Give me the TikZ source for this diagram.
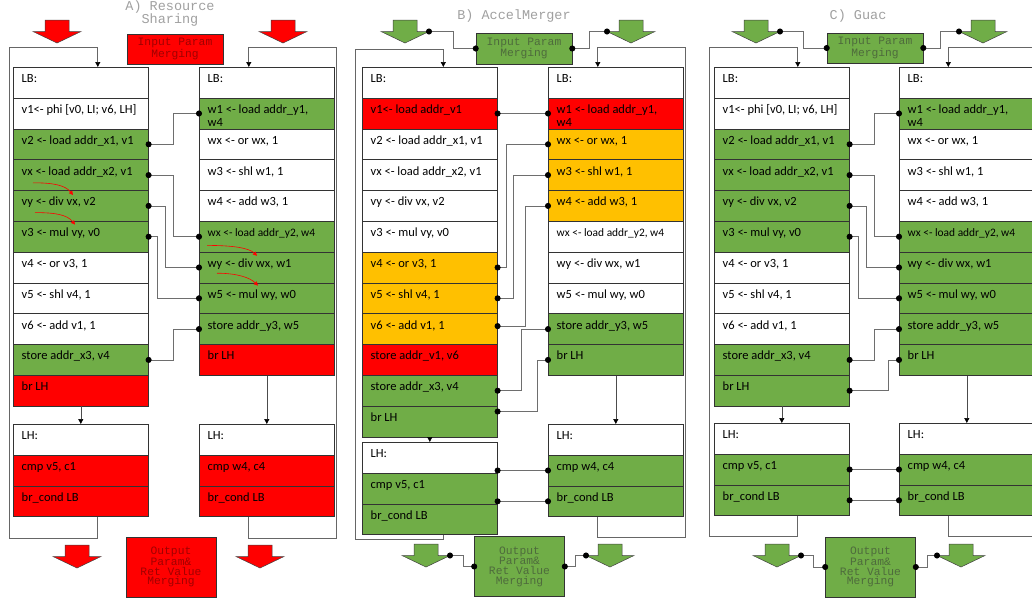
\documentclass[tikz,border=0pt]{standalone}
\usepackage{fontspec}
\setmainfont{Carlito}
\newfontfamily\monofont{Liberation Mono}
\usepackage{tikz}
\usetikzlibrary{arrows.meta}
\definecolor{Grn}{HTML}{70AD47}
\definecolor{Rd}{HTML}{FF0000}
\definecolor{Org}{HTML}{FFC000}
\definecolor{Wht}{HTML}{FFFFFF}
\definecolor{TitleGray}{HTML}{A0A0A0}
\definecolor{GrnText}{HTML}{4E6B3C}
\definecolor{RdText}{HTML}{A00000}
\definecolor{Wire}{HTML}{6E6E6E}

\tikzset{
  instr/.style={draw=black!80, line width=0.6pt, minimum width=135pt, minimum height=30.8pt, inner sep=0pt, anchor=north west},
  instrtxt/.style={anchor=north west, inner sep=0pt, text height=9pt, text depth=3pt, xshift=8.5pt, yshift=-6.5pt, align=left, font=\fontsize{12.5}{13}\selectfont},
  mergebox/.style={draw=black!80, line width=0.6pt, inner sep=0pt, align=center, font=\monofont\fontsize{11.3}{10}\selectfont},
  outbox/.style={mergebox, minimum width=90pt, minimum height=60pt, font=\monofont\fontsize{11.3}{9.6}\selectfont},
  title/.style={text=TitleGray, align=center, font=\monofont\fontsize{13.5}{13}\selectfont},
  wire/.style={draw=Wire, line width=0.7pt, {Circle[length=6pt,color=black]}-{Circle[length=6pt,color=black]}, shorten <=-3pt, shorten >=-3pt},
  backedge/.style={draw=black!60, line width=0.7pt, -{Triangle[length=5pt,width=5pt,color=black]}},
  flow/.style={draw=black!70, line width=0.6pt, -{Triangle[length=5pt,width=5pt,color=black]}},
  dep/.style={draw=Rd, line width=0.6pt, -{Triangle[length=4pt,width=4pt]}},
  bigarrow/.pic={
    \path[pic actions] (-12,0) -- (12,0) -- (12,11.5) -- (24,11.5) -- (0,23) -- (-24,11.5) -- (-12,11.5) -- cycle;
    \coordinate (-hl) at (-24,11.5);
    \coordinate (-hr) at (24,11.5);
  },
  redarrow/.style={fill=Rd, draw=black!75, line width=0.5pt},
  grnarrow/.style={fill=Grn, draw=black!75, line width=0.5pt}
}
\newcommand{\smallinstr}{\fontsize{11.4}{13}\selectfont}
\newcommand{\wrapinstr}[2]{\parbox[t]{125pt}{#1\\#2}}

\begin{document}
\begin{tikzpicture}[x=1pt,y=-1pt]
\useasboundingbox (0,0) rectangle (1032,603);

%%%%%%%%%%%%%%%% A) Resource Sharing
\node[title] (A-title) at (170,13.5) {A) Resource\\Sharing};
\pic[redarrow] (A-ia) at (57,20) {bigarrow};
\pic[redarrow] (A-ib) at (283,20) {bigarrow};
\node[mergebox, fill=Rd, text=RdText, minimum width=96pt, minimum height=30pt] (A-in) at (175,49) {Input Param\\Merging};
% loop bodies
\foreach \nm/\txt/\col [count=\i from 0] in {lb/LB:/Wht, v1/{v1<- phi [v0, LI; v6, LH]}/Wht, v2/{v2 <- load addr\_x1, v1}/Grn, vx/{vx <- load addr\_x2, v1}/Grn, vy/{vy <- div vx, v2}/Grn, v3/{v3 <- mul vy, v0}/Grn, v4/{v4 <- or v3, 1}/Wht, v5/{v5 <- shl v4, 1}/Wht, v6/{v6 <- add v1, 1}/Wht, stx/{store addr\_x3, v4}/Grn, br/br LH/Rd}
  \node[instr, fill=\col, label={[instrtxt]north west:\txt}] (A-l-\nm) at (13,67+30.8*\i) {};
\foreach \nm/\txt/\col [count=\i from 0] in {lb/LB:/Wht, w1/{\wrapinstr{w1 <- load addr\_y1,}{w4}}/Grn, wx/{wx <- or wx, 1}/Wht, w3/{w3 <- shl w1, 1}/Wht, w4/{w4 <- add w3, 1}/Wht, wx2/{\smallinstr wx <- load addr\_y2, w4}/Grn, wy/{wy <- div wx, w1}/Grn, w5/{w5 <- mul wy, w0}/Grn, sty/{store addr\_y3, w5}/Grn, br/br LH/Rd}
  \node[instr, fill=\col, label={[instrtxt]north west:\txt}] (A-r-\nm) at (199,67+30.8*\i) {};
% loop headers
\foreach \nm/\txt/\col [count=\i from 0] in {lh/LH:/Wht, cmp/{cmp v5, c1}/Rd, brc/br\_cond LB/Rd}
  \node[instr, fill=\col, label={[instrtxt]north west:\txt}] (A-ll-\nm) at (13,424+30.8*\i) {};
\foreach \nm/\txt/\col [count=\i from 0] in {lh/LH:/Wht, cmp/{cmp w4, c4}/Rd, brc/br\_cond LB/Rd}
  \node[instr, fill=\col, label={[instrtxt]north west:\txt}] (A-rl-\nm) at (199,424+30.8*\i) {};
% shared operations
\draw[wire] (A-l-v2.east) -- ++(25,0) |- (A-r-w1.west);
\draw[wire] (A-l-vx.east) -- ++(25,0) |- (A-r-wx2.west);
\draw[wire] (A-l-vy.east) -- ++(17,0) |- (A-r-wy.west);
\draw[wire] (A-l-v3.east) -- ++(9,0) |- (A-r-w5.west);
\draw[wire] (A-l-stx.east) -- ++(25,0) |- (A-r-sty.west);
% data dependences
\draw[dep] ([shift={(20,-8)}]A-l-vx.south west) .. controls +(20,0) and +(-8,-10) .. ([shift={(60,4.8)}]A-l-vy.north west);
\draw[dep] ([shift={(22,-9)}]A-l-vy.south west) .. controls +(20,0) and +(-8,-10) .. ([shift={(62,3.6)}]A-l-v3.north west);
\draw[dep] ([shift={(8,-7)}]A-r-wx2.south west) .. controls +(25,0) and +(-8,-8) .. ([shift={(58,4)}]A-r-wy.north west);
\draw[dep] ([shift={(18,-10)}]A-r-wy.south west) .. controls +(20,0) and +(-8,-8) .. ([shift={(59,3)}]A-r-w5.north west);
% control flow
\draw[flow] (A-l-br.south) -- (A-ll-lh.north);
\draw[flow] (A-r-br.south) -- (A-rl-lh.north);
\draw[backedge] ([xshift=17pt]A-ll-brc.south) -- ++(0,21) -| (9,47) -| ([xshift=17pt]A-l-lb.north);
\draw[backedge] ([xshift=-18pt]A-rl-brc.south) -- ++(0,21) -| (336,47) -| ([xshift=-18pt]A-r-lb.north);
\pic[redarrow] (A-oa) at (77,545) {bigarrow};
\pic[redarrow] (A-ob) at (260,545) {bigarrow};
\node[outbox, fill=Rd, text=RdText] (A-out) at (171,567) {Output\\Param\&\\Ret Value\\Merging};

%%%%%%%%%%%%%%%% B) AccelMerger
\node[title] (B-title) at (514,16) {B) AccelMerger};
\pic[grnarrow] (B-ia) at (405,20) {bigarrow};
\pic[grnarrow] (B-ib) at (631,20) {bigarrow};
\node[mergebox, fill=Grn, text=GrnText, minimum width=96pt, minimum height=31pt] (B-in) at (524,48.5) {Input Param\\Merging};
% loop bodies
\foreach \nm/\txt/\col [count=\i from 0] in {lb/LB:/Wht, v1/{v1<- load addr\_v1}/Rd, v2/{v2 <- load addr\_x1, v1}/Wht, vx/{vx <- load addr\_x2, v1}/Wht, vy/{vy <- div vx, v2}/Wht, v3/{v3 <- mul vy, v0}/Wht, v4/{v4 <- or v3, 1}/Org, v5/{v5 <- shl v4, 1}/Org, v6/{v6 <- add v1, 1}/Org, stv/{store addr\_v1, v6}/Rd, stx/{store addr\_x3, v4}/Grn, br/br LH/Grn}
  \node[instr, fill=\col, label={[instrtxt]north west:\txt}] (B-l-\nm) at (362,67+30.8*\i) {};
\foreach \nm/\txt/\col [count=\i from 0] in {lb/LB:/Wht, w1/{\wrapinstr{w1 <- load addr\_y1,}{w4}}/Rd, wx/{wx <- or wx, 1}/Org, w3/{w3 <- shl w1, 1}/Org, w4/{w4 <- add w3, 1}/Org, wx2/{\smallinstr wx <- load addr\_y2, w4}/Wht, wy/{wy <- div wx, w1}/Wht, w5/{w5 <- mul wy, w0}/Wht, sty/{store addr\_y3, w5}/Grn, br/br LH/Grn}
  \node[instr, fill=\col, label={[instrtxt]north west:\txt}] (B-r-\nm) at (548,67+30.8*\i) {};
% loop headers
\foreach \nm/\txt/\col [count=\i from 0] in {lh/LH:/Wht, cmp/{cmp v5, c1}/Grn, brc/br\_cond LB/Grn}
  \node[instr, fill=\col, label={[instrtxt]north west:\txt}] (B-ll-\nm) at (362,442+30.8*\i) {};
\foreach \nm/\txt/\col [count=\i from 0] in {lh/LH:/Wht, cmp/{cmp w4, c4}/Grn, brc/br\_cond LB/Grn}
  \node[instr, fill=\col, label={[instrtxt]north west:\txt}] (B-rl-\nm) at (548,424+30.8*\i) {};
% merged operations
\draw[wire] (B-l-v1.east) -- (B-r-w1.west);
\draw[wire] (B-l-v4.east) -- ++(9,0) |- (B-r-wx.west);
\draw[wire] (B-l-v5.east) -- ++(16,0) |- (B-r-w3.west);
\draw[wire] ([yshift=3pt]B-l-v6.east) -- ++(28,0) |- (B-r-w4.west);
\draw[wire] (B-l-stx.east) -- ++(24,0) |- (B-r-sty.west);
\draw[wire] ([yshift=10pt]B-l-br.east) -- ++(40,0) |- (B-r-br.west);
\draw[wire] (B-rl-cmp.west -| B-ll-lh.east) -- (B-rl-cmp.west);
\draw[wire] (B-rl-brc.west -| B-ll-cmp.east) -- (B-rl-brc.west);
% control flow
\draw[flow] (B-l-br.south) -- (B-ll-lh.north);
\draw[flow] (B-r-br.south) -- (B-rl-lh.north);
\draw[backedge] ([xshift=13.5pt]B-ll-brc.south) -- ++(0,4) -| (355,49) -| ([xshift=13.5pt]B-l-lb.north);
\draw[backedge] ([xshift=-18pt]B-rl-brc.south) -- ++(0,20) -| (685,47) -| ([xshift=-18pt]B-r-lb.north);
\pic[grnarrow] (B-oa) at (426,544) {bigarrow};
\pic[grnarrow] (B-ob) at (610,544) {bigarrow};
\node[outbox, fill=Grn, text=GrnText] (B-out) at (519.5,566.5) {Output\\Param\&\\Ret Value\\Merging};
% parameter wiring
\draw[wire] (B-ia-hr) -- ++(24,0) |- (B-in.west);
\draw[wire] (B-in.east) -- ++(17,0) |- (B-ib-hl);
\draw[wire] (B-oa-hr) -- ++(13,0) |- (B-out.west);
\draw[wire] (B-out.east) -- ++(11,0) |- (B-ob-hl);

%%%%%%%%%%%%%%%% C) Guac
\node[title] (C-title) at (858,16) {C) Guac};
\pic[grnarrow] (C-ia) at (756,20) {bigarrow};
\pic[grnarrow] (C-ib) at (983,20) {bigarrow};
\node[mergebox, fill=Grn, text=GrnText, minimum width=96pt, minimum height=30pt] (C-in) at (875,48) {Input Param\\Merging};
% loop bodies
\foreach \nm/\txt/\col [count=\i from 0] in {lb/LB:/Wht, v1/{v1<- phi [v0, LI; v6, LH]}/Wht, v2/{v2 <- load addr\_x1, v1}/Grn, vx/{vx <- load addr\_x2, v1}/Grn, vy/{vy <- div vx, v2}/Grn, v3/{v3 <- mul vy, v0}/Grn, v4/{v4 <- or v3, 1}/Wht, v5/{v5 <- shl v4, 1}/Wht, v6/{v6 <- add v1, 1}/Wht, stx/{store addr\_x3, v4}/Grn, br/br LH/Grn}
  \node[instr, fill=\col, label={[instrtxt]north west:\txt}] (C-l-\nm) at (714,67+30.8*\i) {};
\foreach \nm/\txt/\col [count=\i from 0] in {lb/LB:/Wht, w1/{\wrapinstr{w1 <- load addr\_y1,}{w4}}/Grn, wx/{wx <- or wx, 1}/Wht, w3/{w3 <- shl w1, 1}/Wht, w4/{w4 <- add w3, 1}/Wht, wx2/{\smallinstr wx <- load addr\_y2, w4}/Grn, wy/{wy <- div wx, w1}/Grn, w5/{w5 <- mul wy, w0}/Grn, sty/{store addr\_y3, w5}/Grn, br/br LH/Grn}
  \node[instr, fill=\col, label={[instrtxt]north west:\txt}] (C-r-\nm) at (899,67+30.8*\i) {};
% loop headers
\foreach \nm/\txt/\col [count=\i from 0] in {lh/LH:/Wht, cmp/{cmp v5, c1}/Grn, brc/br\_cond LB/Grn}
  \node[instr, fill=\col, label={[instrtxt]north west:\txt}] (C-ll-\nm) at (714,423+30.8*\i) {};
\foreach \nm/\txt/\col [count=\i from 0] in {lh/LH:/Wht, cmp/{cmp w4, c4}/Grn, brc/br\_cond LB/Grn}
  \node[instr, fill=\col, label={[instrtxt]north west:\txt}] (C-rl-\nm) at (899,423+30.8*\i) {};
% merged operations
\draw[wire] (C-l-v2.east) -- ++(25,0) |- (C-r-w1.west);
\draw[wire] (C-l-vx.east) -- ++(25,0) |- (C-r-wx2.west);
\draw[wire] (C-l-vy.east) -- ++(17,0) |- (C-r-wy.west);
\draw[wire] (C-l-v3.east) -- ++(9,0) |- (C-r-w5.west);
\draw[wire] (C-l-stx.east) -- ++(25,0) |- (C-r-sty.west);
\draw[wire] (C-l-br.east) -- ++(39,0) |- (C-r-br.west);
\draw[wire] (C-ll-cmp.east) -- (C-rl-cmp.west);
\draw[wire] (C-ll-brc.east) -- (C-rl-brc.west);
% control flow
\draw[flow] (C-l-br.south) -- (C-ll-lh.north);
\draw[flow] (C-r-br.south) -- (C-rl-lh.north);
\draw[backedge] ([xshift=16pt]C-ll-brc.south) -- ++(0,20) -| (709,47) -| ([xshift=16pt]C-l-lb.north);
\draw[backedge] ([xshift=-18.5pt]C-rl-brc.south) -- ++(0,20) -| (1036,47) -| ([xshift=-18.5pt]C-r-lb.north);
\pic[grnarrow] (C-oa) at (777,544) {bigarrow};
\pic[grnarrow] (C-ob) at (961,544) {bigarrow};
\node[outbox, fill=Grn, text=GrnText] (C-out) at (870.5,567) {Output\\Param\&\\Ret Value\\Merging};
% parameter wiring
\draw[wire] (C-ia-hr) -- ++(23,0) |- (C-in.west);
\draw[wire] (C-in.east) -- ++(17,0) |- (C-ib-hl);
\draw[wire] (C-oa-hr) -- ++(12,0) |- (C-out.west);
\draw[wire] (C-out.east) -- ++(12,0) |- (C-ob-hl);
\end{tikzpicture}
\end{document}
